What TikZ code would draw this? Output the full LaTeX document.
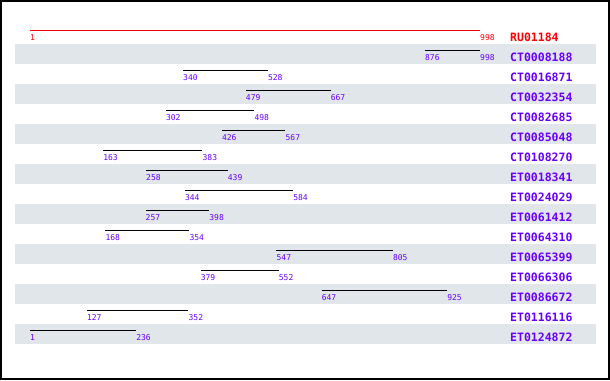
\documentclass[tikz,border=0pt]{standalone}
\usepackage{fontspec}
\setmonofont{DejaVu Sans Mono}
\usepackage{tikz}
\def\rowsep{20}
\def\scalex{0.45135}
\definecolor{hitpurple}{HTML}{6600FF}
\definecolor{rowgray}{HTML}{E1E6EA}

\begin{document}
\begin{tikzpicture}[x=1pt,y=-1pt]
            \tikzstyle{frame}=[draw=black,line width=2pt]
            \tikzstyle{band}=[fill=rowgray,draw=none]
            \tikzstyle{coordlabel}=[anchor=west,inner sep=0pt,text=hitpurple,font=\ttfamily\fontsize{8}{8}\selectfont]
            \tikzstyle{seqname}=[anchor=west,inner sep=0pt,text=hitpurple,font=\ttfamily\bfseries\fontsize{11.5}{11.5}\selectfont]
            \tikzstyle{hit}=[draw=black,line width=1pt]

            \useasboundingbox (0,0) rectangle (610,380);
            \draw[frame] (1,1) rectangle (609,379);

            % Draw the shaded bands behind every other row
            \foreach \i in {1,3,...,15}
                \fill[band] (15,24+\rowsep*\i) rectangle (596,44+\rowsep*\i);

            % Draw the query line
            \coordinate (s-0) at (30,30);
            \coordinate (e-0) at (480,30);
            \draw[hit,draw=red] (s-0) -- (e-0);
            \node[coordlabel,text=red] (S-0) at (30,38) {1};
            \node[coordlabel,text=red] (E-0) at (480,38) {998};
            \node[seqname,text=red] (N-0) at (510,37) {RU01184};

            % Draw the hits, one per row
            \foreach \i / \name / \a / \b in {1/CT0008188/876/998, 2/CT0016871/340/528,
                    3/CT0032354/479/667, 4/CT0082685/302/498, 5/CT0085048/426/567,
                    6/CT0108270/163/383, 7/ET0018341/258/439, 8/ET0024029/344/584,
                    9/ET0061412/257/398, 10/ET0064310/168/354, 11/ET0065399/547/805,
                    12/ET0066306/379/552, 13/ET0086672/647/925, 14/ET0116116/127/352,
                    15/ET0124872/1/236}
            {
                \coordinate (s-\i) at (30+\scalex*\a-\scalex,30+\rowsep*\i);
                \coordinate (e-\i) at (30+\scalex*\b-\scalex,30+\rowsep*\i);
                \draw[hit] (s-\i) -- (e-\i);
                \node[coordlabel] (S-\i) at ([yshift=-8pt]s-\i) {\a};
                \node[coordlabel] (E-\i) at ([yshift=-8pt]e-\i) {\b};
                \node[seqname] (N-\i) at (510,37+\rowsep*\i) {\name};
            }
        \end{tikzpicture}
\end{document}
